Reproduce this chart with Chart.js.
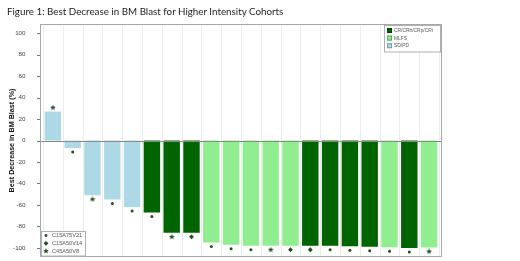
<!DOCTYPE html>
<html><head><meta charset="utf-8">
<script src="https://cdn.jsdelivr.net/npm/chart.js@4.4.1/dist/chart.umd.min.js"></script>
<style>
html,body{margin:0;padding:0;background:#fff;}
#wrap{position:relative;width:520px;height:261px;}
#cap{position:absolute;left:7px;top:5px;font-family:Lato,"Open Sans",sans-serif;font-size:9.8px;color:#222;white-space:nowrap;}
canvas{position:absolute;left:0;top:0;}
</style></head>
<body>
<div id="wrap">
<canvas id="c" width="520" height="261"></canvas>
<div id="cap">Figure 1: Best Decrease in BM Blast for Higher Intensity Cohorts</div>
</div>
<script>
// ---- data ----
const categories = ['P1','P2','P3','P4','P5','P6','P7','P8','P9','P10','P11','P12','P13','P14','P15','P16','P17','P18','P19','P20'];
const bestDecrease = [27, -7, -51, -55, -62, -67, -86, -86, -95, -97, -98, -98, -98, -98, -98, -98.5, -99, -99.3, -100, -99.6];
const response = ['SD/PD','SD/PD','SD/PD','SD/PD','SD/PD','CR/CRh/CRp/CRi','CR/CRh/CRp/CRi','CR/CRh/CRp/CRi','MLFS','MLFS','MLFS','MLFS','MLFS','CR/CRh/CRp/CRi','CR/CRh/CRp/CRi','CR/CRh/CRp/CRi','CR/CRh/CRp/CRi','MLFS','CR/CRh/CRp/CRi','MLFS'];
const cohort = ['C45A50V8','C15A75V21','C45A50V8','C15A75V21','C15A75V21','C15A75V21','C45A50V8','C15A50V14','C15A75V21','C15A75V21','C15A75V21','C45A50V8','C15A50V14','C15A50V14','C15A75V21','C15A75V21','C15A75V21','C15A75V21','C15A75V21','C45A50V8'];
const responseGroups = ['CR/CRh/CRp/CRi','MLFS','SD/PD'];
const cohortGroups = ['C15A75V21','C15A50V14','C45A50V8'];
const yTicks = [-100,-80,-60,-40,-20,0,20,40,60,80,100];
const yAxisTitle = 'Best Decrease in BM Blast (%)';

// ---- styles ----
const respColors = {'CR/CRh/CRp/CRi':'#006400','MLFS':'#90ee90','SD/PD':'#add8e6'};
const respBorders = {'CR/CRh/CRp/CRi':'#0b3d0b','MLFS':'#4caf50','SD/PD':'#7aa0b0'};
const markerColor = '#1d4f1d';
function makeStar(size, color){
  const c = document.createElement('canvas'); c.width = size; c.height = size;
  const g = c.getContext('2d'); const cx=size/2, cy=size/2, R=size/2, r=R*0.45;
  g.beginPath();
  for(let i=0;i<10;i++){const a=-Math.PI/2+i*Math.PI/5; const rr=i%2?r:R; g.lineTo(cx+rr*Math.cos(a), cy+rr*Math.sin(a));}
  g.closePath(); g.fillStyle=color; g.fill(); return c;
}
const starImg = makeStar(6, markerColor);
const markerStyle = {
  'C15A75V21': {pointStyle:'circle', radius:1.5},
  'C15A50V14': {pointStyle:'rectRot', radius:2.4},
  'C45A50V8': {pointStyle:starImg, radius:3}
};

const barSets = responseGroups.map(g => ({
  type:'bar', label:g,
  data: bestDecrease.map((v,i)=> response[i]===g ? v : null),
  backgroundColor: respColors[g], borderWidth:0, grouped:false,
  categoryPercentage:1, barPercentage:0.83, order:2
}));
const markerSets = cohortGroups.map(g => ({
  type:'line', label:g, showLine:false, markerGap:4,
  data: bestDecrease.map((v,i)=> cohort[i]===g ? v : null),
  pointStyle: markerStyle[g].pointStyle, pointRadius: markerStyle[g].radius,
  pointBackgroundColor: markerColor, pointBorderColor: markerColor, pointBorderWidth:0,
  order:1, clip:false
}));

const INSET = 3;
const decor = {
  id:'decor',
  afterDatasetsUpdate(chart){
    chart.data.datasets.forEach((ds,i)=>{
      if(ds.type!=='line') return;
      const meta = chart.getDatasetMeta(i);
      meta.data.forEach((pt,j)=>{
        const v = ds.data[j]; if(v==null) return;
        pt.y += v>=0 ? -ds.markerGap : ds.markerGap;
      });
    });
  },
  beforeDatasetsDraw(chart){
    const ctx = chart.ctx, ca = chart.chartArea, xs = chart.scales.x;
    ctx.save();
    ctx.strokeStyle='#ececec'; ctx.lineWidth=1;
    for(let i=0;i<=categories.length;i++){
      const x = Math.round((xs.getPixelForValue(i-1)+xs.getPixelForValue(i))/2)+0.5;
      ctx.beginPath(); ctx.moveTo(x, ca.top); ctx.lineTo(x, ca.bottom); ctx.stroke();
    }
    ctx.restore();
  },
  afterDatasetsDraw(chart){
    const ctx = chart.ctx, ca = chart.chartArea, ys = chart.scales.y;
    const L = ca.left-INSET, R = ca.right+INSET, T = ca.top, B = ca.bottom;
    ctx.save();
    // zero line
    const y0 = Math.round(ys.getPixelForValue(0))+0.5;
    ctx.strokeStyle='#8a8a8a'; ctx.lineWidth=1;
    ctx.beginPath(); ctx.moveTo(L,y0); ctx.lineTo(R,y0); ctx.stroke();
    // frame
    ctx.strokeStyle='#a8a8a8';
    ctx.strokeRect(L+0.5, T+0.5, R-L-1, B-T-1);
    // tick marks
    ctx.strokeStyle='#777';
    yTicks.forEach(v=>{ const y=Math.round(ys.getPixelForValue(v))+0.5; ctx.beginPath(); ctx.moveTo(L-3,y); ctx.lineTo(L,y); ctx.stroke(); });
    // legend: response (top-right)
    ctx.font='4.9px "Liberation Sans", Arial, sans-serif'; ctx.textBaseline='middle'; ctx.textAlign='left';
    const lx = R-58, ly = T+1;
    ctx.fillStyle='#fff'; ctx.fillRect(lx, ly, 57, 27);
    ctx.strokeStyle='#b0b0b0'; ctx.strokeRect(lx+0.5, ly+0.5, 56, 26.5);
    responseGroups.forEach((g,k)=>{
      const yy = ly+5.5+k*7.6;
      ctx.fillStyle=respColors[g]; ctx.fillRect(lx+3, yy-2.5, 5, 5);
      ctx.strokeStyle=respBorders[g]; ctx.strokeRect(lx+3.5, yy-2, 4, 4);
      ctx.fillStyle='#555'; ctx.fillText(g, lx+10, yy+0.3);
    });
    // legend: cohorts (bottom-left)
    ctx.font='5.6px "Liberation Sans", Arial, sans-serif';
    const bx = L+1, by = B-26;
    ctx.fillStyle='#fff'; ctx.fillRect(bx, by, 44, 25);
    ctx.strokeStyle='#b0b0b0'; ctx.strokeRect(bx+0.5, by+0.5, 44, 24.5);
    cohortGroups.forEach((g,k)=>{
      const yy = by+4.5+k*7.8, mx = bx+5;
      ctx.fillStyle=markerColor;
      const st = markerStyle[g];
      if(st.pointStyle==='circle'){ctx.beginPath(); ctx.arc(mx,yy,1.4,0,Math.PI*2); ctx.fill();}
      else if(st.pointStyle==='rectRot'){ctx.beginPath(); ctx.moveTo(mx,yy-2.4); ctx.lineTo(mx+2.4,yy); ctx.lineTo(mx,yy+2.4); ctx.lineTo(mx-2.4,yy); ctx.closePath(); ctx.fill();}
      else {ctx.drawImage(st.pointStyle, mx-3, yy-3);}
      ctx.fillStyle='#555'; ctx.fillText(g, bx+11, yy+0.3);
    });
    ctx.restore();
  }
};

new Chart(document.getElementById('c'), {
  data:{labels:categories, datasets:[...barSets, ...markerSets]},
  options:{
    responsive:false, animation:false, events:[],
    layout:{padding:{left:0, top:24, right:520-439, bottom:2.5}},
    plugins:{legend:{display:false}, tooltip:{enabled:false}, title:{display:false}},
    scales:{
      x:{type:'category', offset:true, display:false},
      y:{type:'linear', min:-108.5, max:108.6,
         afterBuildTicks:s=>{s.ticks = yTicks.map(v=>({value:v}));},
         afterFit:s=>{s.width=43; s.paddingTop=0; s.paddingBottom=0;},
         grid:{display:false}, border:{display:false},
         ticks:{padding:9.5, color:'#444', font:{family:'"Liberation Sans", Arial, sans-serif', size:6.2}},
         title:{display:true, text:yAxisTitle, color:'#111', padding:{top:8, bottom:0},
                font:{family:'"Liberation Sans", Arial, sans-serif', size:7.2, weight:'bold'}}}
    }
  },
  plugins:[decor]
});
</script>
</body></html>
